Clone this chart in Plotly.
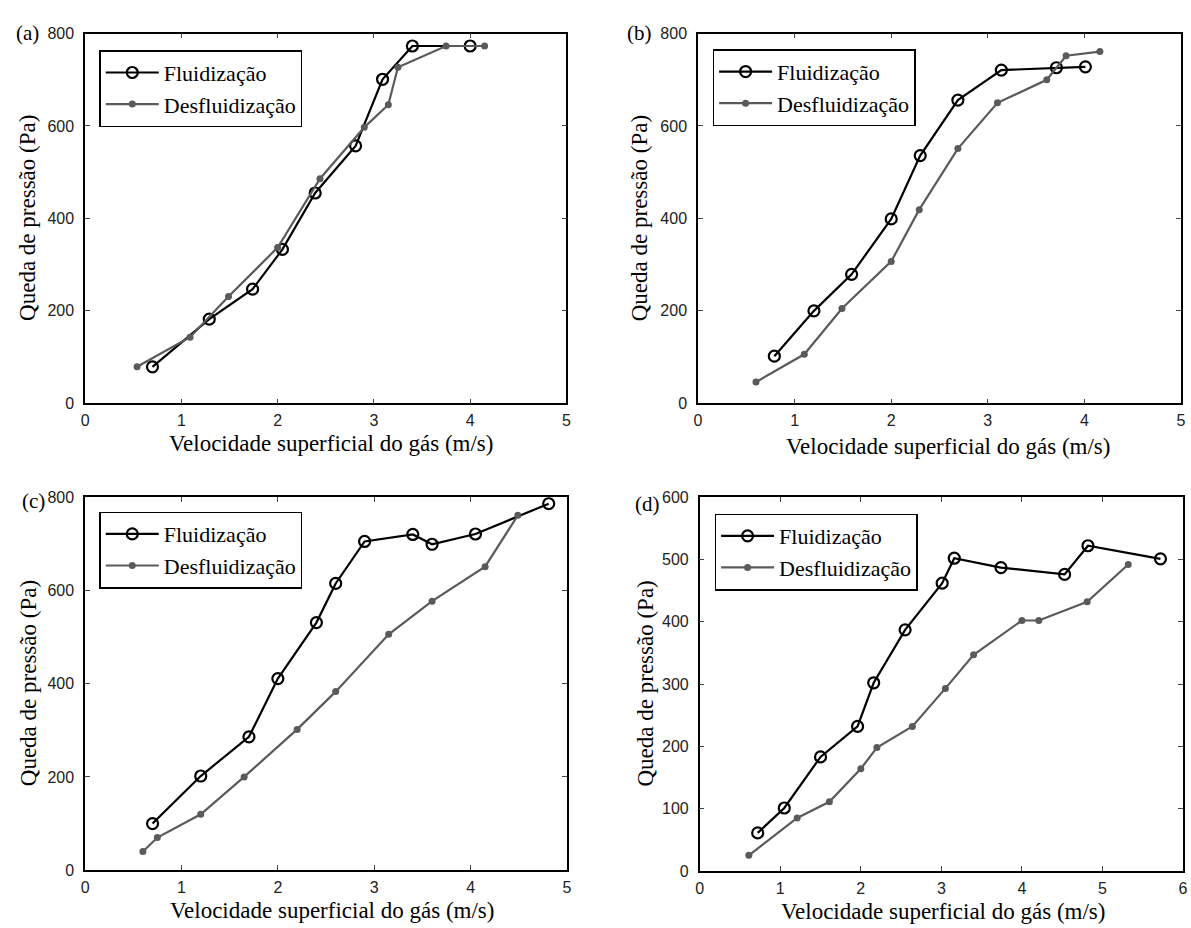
import plotly.graph_objects as go

W, H = 1191, 928

# ---------------- data ----------------
a_flu_x = [0.70, 1.29, 1.74, 2.05, 2.39, 2.81, 3.09, 3.40, 4.00]
a_flu_y = [79, 182, 247, 333, 455, 557, 701, 773, 773]
a_des_x = [0.54, 1.09, 1.49, 2.00, 2.44, 2.90, 3.15, 3.25, 3.75, 4.15]
a_des_y = [79, 143, 231, 337, 486, 597, 646, 727, 773, 773]

b_flu_x = [0.79, 1.20, 1.59, 2.00, 2.30, 2.69, 3.14, 3.71, 4.01]
b_flu_y = [102, 200, 279, 399, 536, 656, 721, 726, 728]
b_des_x = [0.60, 1.10, 1.49, 2.00, 2.29, 2.69, 3.10, 3.61, 3.81, 4.16]
b_des_y = [46, 106, 205, 307, 419, 551, 650, 700, 752, 761]

c_flu_x = [0.70, 1.20, 1.70, 2.00, 2.40, 2.60, 2.90, 3.40, 3.60, 4.05, 4.81]
c_flu_y = [100, 202, 286, 411, 531, 615, 705, 720, 699, 721, 786]
c_des_x = [0.60, 0.75, 1.20, 1.65, 2.20, 2.60, 3.15, 3.60, 4.15, 4.49]
c_des_y = [40, 70, 120, 200, 302, 383, 506, 577, 651, 761]

d_flu_x = [0.72, 1.05, 1.50, 1.96, 2.16, 2.55, 3.01, 3.16, 3.74, 4.53, 4.82, 5.72]
d_flu_y = [61, 101, 183, 232, 302, 387, 462, 502, 487, 476, 522, 501]
d_des_x = [0.61, 1.21, 1.61, 2.00, 2.20, 2.64, 3.05, 3.40, 4.00, 4.21, 4.81, 5.32]
d_des_y = [25, 85, 111, 164, 198, 232, 293, 347, 402, 402, 432, 492]

panel_labels = ["(a)", "(b)", "(c)", "(d)"]
series_names = ["Fluidização", "Desfluidização"]
x_title = "Velocidade superficial do gás (m/s)"
y_title = "Queda de pressão (Pa)"
x_ranges = [[0, 5], [0, 5], [0, 5], [0, 6]]
y_ranges = [[0, 800], [0, 800], [0, 800], [0, 600]]
y_dticks = [200, 200, 200, 100]

# ---------------- layout geometry (pixels) ----------------
boxes = [  # left, right, top, bottom
    (81.7, 566.7, 26.0, 402.7),
    (699.3, 1186.0, 26.0, 402.7),
    (81.7, 567.3, 498.3, 878.3),
    (701.0, 1188.0, 498.3, 879.0),
]
legend_pos = [(96, 43), (714, 42), (96, 513), (716, 515)]
label_pos = [(23.5, 25), (640.5, 25), (29.5, 502), (648.5, 505)]
ytitle_pos = [(23, 214), (640, 214), (25, 688), (646, 688)]
xtitle_pos = [(329, 444), (951, 447), (330, 919), (946, 920)]

SERIF = "Liberation Serif, Times New Roman, serif"
SANS = "Liberation Sans, Arial, sans-serif"
FLU_C = "#000000"
DES_C = "#5a5a5a"

data = [
    (a_flu_x, a_flu_y, a_des_x, a_des_y),
    (b_flu_x, b_flu_y, b_des_x, b_des_y),
    (c_flu_x, c_flu_y, c_des_x, c_des_y),
    (d_flu_x, d_flu_y, d_des_x, d_des_y),
]

fig = go.Figure()
layout = dict(
    width=W, height=H,
    margin=dict(l=0, r=0, t=0, b=0),
    paper_bgcolor="white", plot_bgcolor="white",
    showlegend=True,
    annotations=[],
)

for i, (fx, fy, dx, dy) in enumerate(data):
    n = "" if i == 0 else str(i + 1)
    xa, ya = "x" + n, "y" + n
    lg = "legend" + n
    fig.add_trace(go.Scatter(
        x=fx, y=fy, name=series_names[0], mode="lines+markers",
        xaxis=xa, yaxis=ya, legend=lg,
        line=dict(color=FLU_C, width=2.2),
        marker=dict(symbol="circle-open", size=11, color=FLU_C, line=dict(width=2.2, color=FLU_C)),
    ))
    fig.add_trace(go.Scatter(
        x=dx, y=dy, name=series_names[1], mode="lines+markers",
        xaxis=xa, yaxis=ya, legend=lg,
        line=dict(color=DES_C, width=2.2),
        marker=dict(symbol="circle", size=7, color=DES_C),
    ))
    l, r, t, b = boxes[i]
    common = dict(
        showline=True, linecolor="black", linewidth=1.5, mirror="ticks",
        ticks="inside", ticklen=5, tickwidth=1, tickcolor="#444",
        showgrid=False, zeroline=False,
        tickfont=dict(family=SANS, size=16, color="#222"),
        fixedrange=True,
    )
    layout["xaxis" + n] = dict(
        common, domain=[l / W, r / W], range=x_ranges[i], dtick=1, tick0=0,
        anchor=ya, ticklabelstandoff=2,
    )
    layout["yaxis" + n] = dict(
        common, domain=[1 - b / H, 1 - t / H], range=y_ranges[i], dtick=y_dticks[i], tick0=0,
        anchor=xa, ticklabelstandoff=6,
    )
    lx, ly = legend_pos[i]
    layout[lg] = dict(
        x=lx / W, y=1 - ly / H, xanchor="left", yanchor="top",
        xref="paper", yref="paper",
        bordercolor="black", borderwidth=1.5, bgcolor="white",
        font=dict(family=SERIF, size=22, color="black"),
        tracegroupgap=0, itemwidth=53,
    )
    px, py = label_pos[i]
    layout["annotations"].append(dict(
        text=panel_labels[i], x=px / W, y=1 - py / H, xref="paper", yref="paper",
        showarrow=False, xanchor="center", yanchor="middle",
        font=dict(family=SERIF, size=21, color="black"),
    ))
    tx, ty = ytitle_pos[i]
    layout["annotations"].append(dict(
        text=y_title, x=tx / W, y=1 - ty / H, xref="paper", yref="paper",
        showarrow=False, xanchor="center", yanchor="middle", textangle=-90,
        font=dict(family=SERIF, size=23, color="black"),
    ))
    tx, ty = xtitle_pos[i]
    layout["annotations"].append(dict(
        text=x_title, x=tx / W, y=1 - ty / H, xref="paper", yref="paper",
        showarrow=False, xanchor="center", yanchor="middle",
        font=dict(family=SERIF, size=23, color="black"),
    ))

fig.update_layout(**layout)
fig.write_html("out.html")
